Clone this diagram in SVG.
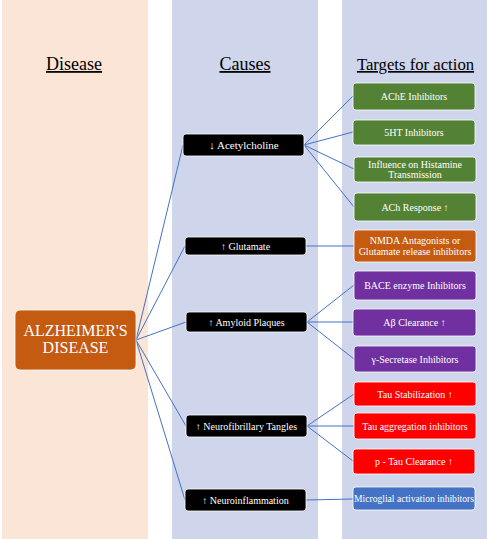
<svg xmlns="http://www.w3.org/2000/svg" width="487" height="539" viewBox="0 0 487 539" font-family="'Liberation Serif', 'Times New Roman', serif">
<style>
text{font-family:"Liberation Serif","Times New Roman","DejaVu Serif",serif}
.hdr{font-size:18px;fill:#000;text-anchor:middle;text-decoration:underline}
.t{font-size:10px;fill:#fff;text-anchor:middle}
.cause{fill:#000;stroke:#fff;stroke-width:0.8}
.tg{stroke:#fff;stroke-width:0.8}
.green{fill:#548235}.orange{fill:#C55A11}.purple{fill:#7030A0}.red{fill:#FF0000}.blue{fill:#4472C4}
.conn line{stroke:#4472C4;stroke-width:1}
</style>
<rect x="0" y="0" width="487" height="539" fill="#fff"/>
<rect x="2" y="0" width="146" height="539" fill="#FBE5D6"/>
<rect x="172" y="0" width="146" height="539" fill="#CFD5EA"/>
<rect x="342" y="0" width="145" height="539" fill="#CFD5EA"/>
<text class="hdr" x="74" y="70">Disease</text>
<text class="hdr" x="245" y="70">Causes</text>
<text class="hdr" x="415.5" y="70" style="font-size:16.7px">Targets for action</text>
<g class="conn" id="connectors">
<line x1="136" y1="340" x2="183" y2="145"/>
<line x1="136" y1="340" x2="185" y2="246"/>
<line x1="136" y1="340" x2="186" y2="322"/>
<line x1="136" y1="340" x2="186" y2="426"/>
<line x1="136" y1="340" x2="185" y2="500"/>
<line x1="304" y1="145" x2="353" y2="96"/>
<line x1="304" y1="145" x2="353" y2="132"/>
<line x1="304" y1="145" x2="354" y2="169"/>
<line x1="304" y1="145" x2="354" y2="207"/>
<line x1="306" y1="246" x2="354" y2="246"/>
<line x1="307" y1="322" x2="354" y2="285"/>
<line x1="307" y1="322" x2="353" y2="322"/>
<line x1="307" y1="322" x2="354" y2="359"/>
<line x1="307" y1="426" x2="354" y2="394"/>
<line x1="307" y1="426" x2="354" y2="426"/>
<line x1="307" y1="426" x2="353" y2="461"/>
<line x1="306" y1="500" x2="353" y2="499"/>
</g>
<g id="alzheimers">
<rect x="15" y="310" width="121" height="60" rx="5" fill="#C55A11" stroke="#fff" stroke-width="0.8"/>
<text class="t" x="75.5" y="335.5" style="font-size:16px">ALZHEIMER'S</text>
<text class="t" x="75.5" y="352.5" style="font-size:16px">DISEASE</text>
</g>
<g id="acetylcholine">
<rect class="cause" x="183" y="134" width="121" height="22" rx="3"/>
<text class="t" x="244" y="148.5" style="font-size:11px">↓ Acetylcholine</text>
</g>
<g id="glutamate">
<rect class="cause" x="185" y="237" width="121" height="18" rx="3"/>
<text class="t" x="245.5" y="249.5">↑ Glutamate</text>
</g>
<g id="amyloid">
<rect class="cause" x="186" y="312" width="121" height="20" rx="3"/>
<text class="t" x="246.5" y="325.5">↑ Amyloid Plaques</text>
</g>
<g id="tangles">
<rect class="cause" x="186" y="415" width="121" height="22" rx="3"/>
<text class="t" x="246.5" y="429.5">↑ Neurofibrillary Tangles</text>
</g>
<g id="neuroinflammation">
<rect class="cause" x="185" y="489" width="121" height="22" rx="3"/>
<text class="t" x="245.5" y="503.5">↑ Neuroinflammation</text>
</g>
<g id="ache">
<rect class="tg green" x="353" y="83" width="122" height="27" rx="3"/>
<text class="t" x="414" y="99.5">AChE Inhibitors</text>
</g>
<g id="sht">
<rect class="tg green" x="353" y="120" width="122" height="25" rx="3"/>
<text class="t" x="414" y="135.5">5HT Inhibitors</text>
</g>
<g id="histamine">
<rect class="tg green" x="354" y="157" width="122" height="25" rx="3"/>
<text class="t" x="415" y="167.5">Influence on Histamine</text>
<text class="t" x="415" y="177.5">Transmission</text>
</g>
<g id="achresponse">
<rect class="tg green" x="354" y="193" width="122" height="28" rx="3"/>
<text class="t" x="415" y="210.5">ACh Response ↑</text>
</g>
<g id="nmda">
<rect class="tg orange" x="354" y="230" width="122" height="32" rx="3"/>
<text class="t" x="415" y="244">NMDA Antagonists or</text>
<text class="t" x="415" y="255">Glutamate release inhibitors</text>
</g>
<g id="bace">
<rect class="tg purple" x="354" y="271" width="122" height="29" rx="3"/>
<text class="t" x="415" y="288.5">BACE enzyme Inhibitors</text>
</g>
<g id="abeta">
<rect class="tg purple" x="353" y="309" width="123" height="27" rx="3"/>
<text class="t" x="414.5" y="325.5">Aβ Clearance ↑</text>
</g>
<g id="gamma">
<rect class="tg purple" x="354" y="346" width="122" height="26" rx="3"/>
<text class="t" x="415" y="362.5">γ-Secretase Inhibitors</text>
</g>
<g id="taustab">
<rect class="tg red" x="354" y="382" width="122" height="24" rx="3"/>
<text class="t" x="415" y="397.5">Tau Stabilization ↑</text>
</g>
<g id="tauagg">
<rect class="tg red" x="354" y="413" width="122" height="26" rx="3"/>
<text class="t" x="415" y="429.5">Tau aggregation inhibitors</text>
</g>
<g id="ptau">
<rect class="tg red" x="353" y="449" width="122" height="25" rx="3"/>
<text class="t" x="414" y="465">p - Tau Clearance ↑</text>
</g>
<g id="microglial">
<rect class="tg blue" x="353" y="487" width="122" height="23" rx="3"/>
<text class="t" x="414" y="502" textLength="120" lengthAdjust="spacingAndGlyphs">Microglial activation inhibitors</text>
</g>
</svg>
